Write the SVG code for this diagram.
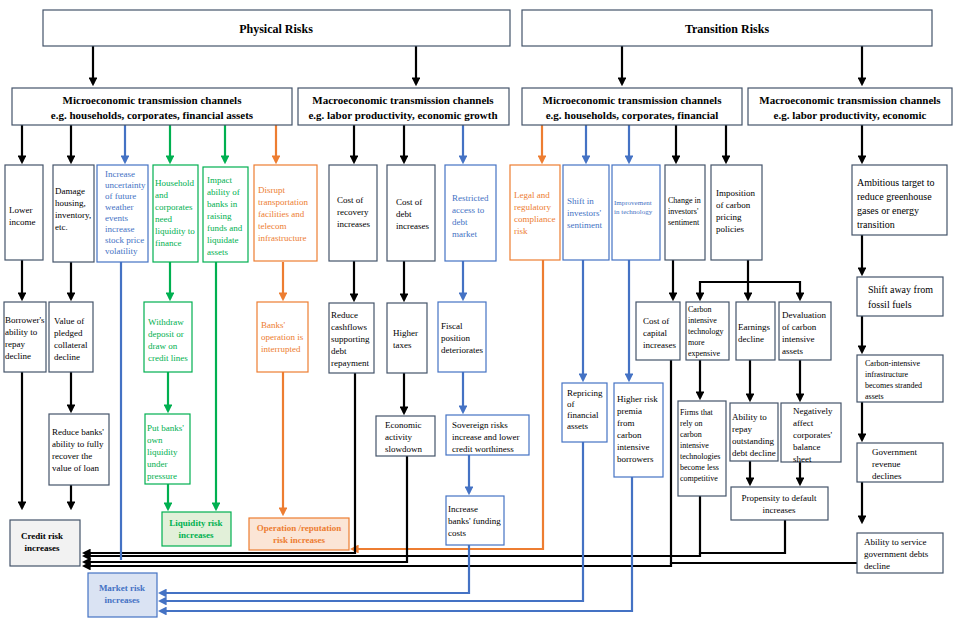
<svg xmlns="http://www.w3.org/2000/svg" width="960" height="621" viewBox="0 0 960 621">
<style>
rect{fill:#fff;stroke-width:1.2}
.k{stroke:#44546a}.u{stroke:#4472c4}.g{stroke:#00b050}.o{stroke:#ed7d31}
text{font-family:"Liberation Serif",serif;font-size:9px;fill:#000}
.tu{fill:#4472c4}.tg{fill:#00b050}.to{fill:#ed7d31}
.h{font-weight:bold;font-size:11px}
.lk{stroke:#000;stroke-width:2.2;fill:none}
.lu{stroke:#4472c4;stroke-width:2.2;fill:none}
.lg{stroke:#00b050;stroke-width:2.2;fill:none}
.lo{stroke:#ed7d31;stroke-width:2.2;fill:none}
.lk.a{marker-end:url(#ak)}.lu.a{marker-end:url(#au)}.lg.a{marker-end:url(#ag)}.lo.a{marker-end:url(#ao)}
</style>
<defs>
<marker id="ak" markerWidth="4" markerHeight="4" refX="3" refY="2" orient="auto" markerUnits="strokeWidth"><path d="M0,0L4,2L0,4z" fill="#000"/></marker>
<marker id="au" markerWidth="4" markerHeight="4" refX="3" refY="2" orient="auto" markerUnits="strokeWidth"><path d="M0,0L4,2L0,4z" fill="#4472c4"/></marker>
<marker id="ag" markerWidth="4" markerHeight="4" refX="3" refY="2" orient="auto" markerUnits="strokeWidth"><path d="M0,0L4,2L0,4z" fill="#00b050"/></marker>
<marker id="ao" markerWidth="4" markerHeight="4" refX="3" refY="2" orient="auto" markerUnits="strokeWidth"><path d="M0,0L4,2L0,4z" fill="#ed7d31"/></marker>
</defs>
<rect width="960" height="621" style="fill:#fff;stroke:none"/>
<g id="connectors">
<path class="lk a" d="M93,46V84"/><path class="lk a" d="M416,46V84"/><path class="lk a" d="M622,46V84"/><path class="lk a" d="M862,46V84"/>
<path class="lk a" d="M22,125V162"/><path class="lk a" d="M71,125V162"/><path class="lk a" d="M354,125V162"/><path class="lk a" d="M404,125V162"/><path class="lk a" d="M676,125V162"/><path class="lk a" d="M726,125V162"/><path class="lk a" d="M862,125V162"/>
<path class="lu a" d="M125,125V162"/><path class="lu a" d="M463,125V162"/><path class="lu a" d="M586,125V162"/><path class="lu a" d="M629,125V162"/>
<path class="lg a" d="M170,125V162"/><path class="lg a" d="M225,125V162"/>
<path class="lo a" d="M276,125V162"/><path class="lo a" d="M542,125V162"/>
<path class="lk a" d="M22,260V299"/><path class="lk a" d="M71,262V299"/><path class="lk a" d="M354,260V300"/><path class="lk a" d="M404,260V300"/>
<path class="lk a" d="M71,372V411"/><path class="lk a" d="M22,372V508"/><path class="lk a" d="M71,485V508"/><path class="lk a" d="M404,373V413"/>
<path class="lk a" d="M673,260V299"/><path class="lk a" d="M748,260V299"/><path class="lk a" d="M748,282H700V299"/><path class="lk a" d="M748,282H800V299"/>
<path class="lk a" d="M700,360V398"/><path class="lk a" d="M750,360V400"/><path class="lk a" d="M800,360V400"/><path class="lk a" d="M750,461V484"/><path class="lk a" d="M800,462V484"/>
<path class="lk a" d="M862,235V274"/><path class="lk a" d="M862,316V352"/><path class="lk a" d="M862,402V440"/><path class="lk a" d="M862,482V522"/>
<path class="lu a" d="M463,260V299"/><path class="lu a" d="M463,372V412"/><path class="lu a" d="M469,455V493"/><path class="lu a" d="M583,260V380"/><path class="lu a" d="M629,260V380"/>
<path class="lg a" d="M170,262V299"/><path class="lg a" d="M168,372V411"/><path class="lg a" d="M168,484V509"/><path class="lg a" d="M216,262V509"/>
<path class="lo a" d="M283,262V299"/><path class="lo a" d="M283,372V514"/><path class="lo a" d="M543,260V549H352"/>
<path class="lk a" d="M355,373V553H84"/><path class="lk" d="M785,520V553H700V496"/><path class="lk a" d="M700,553V556H84"/><path class="lk a" d="M407,456V562H84"/><path class="lk" d="M858,563H671V360"/><path class="lk a" d="M671,563V566H84"/>
<path class="lu" d="M121,262V560"/>
<path class="lu a" d="M469,545V593H160"/><path class="lu a" d="M583,441V601H160"/><path class="lu a" d="M632,477V611H160"/>
</g>
<g id="physical"><rect class="k" x="43" y="10" width="467" height="36"/><text x="276" y="33" text-anchor="middle" class="h" style="font-size:12px">Physical Risks</text></g>
<g id="transition"><rect class="k" x="522" y="10" width="410" height="36"/><text x="727" y="33" text-anchor="middle" class="h" style="font-size:12px">Transition Risks</text></g>
<g id="micro-p"><rect class="k" x="12" y="88" width="280" height="37"/><text text-anchor="middle" class="h"><tspan x="152" y="104">Microeconomic transmission channels</tspan><tspan x="152" y="119">e.g. households, corporates, financial assets</tspan></text></g>
<g id="macro-p"><rect class="k" x="298" y="88" width="211" height="37"/><text text-anchor="middle" class="h"><tspan x="403" y="104">Macroeconomic transmission channels</tspan><tspan x="403" y="119">e.g. labor productivity, economic growth</tspan></text></g>
<g id="micro-t"><rect class="k" x="522" y="88" width="220" height="37"/><text text-anchor="middle" class="h"><tspan x="632" y="104">Microeconomic transmission channels</tspan><tspan x="632" y="119">e.g. households, corporates, financial</tspan></text></g>
<g id="macro-t"><rect class="k" x="748" y="88" width="204" height="37"/><text text-anchor="middle" class="h"><tspan x="850" y="104">Macroeconomic transmission channels</tspan><tspan x="850" y="119">e.g. labor productivity, economic</tspan></text></g>

<g id="lower-income"><rect class="k" x="5" y="165" width="38" height="95"/><text><tspan x="9" y="213">Lower</tspan><tspan x="9" y="225">income</tspan></text></g>
<g id="damage"><rect class="k" x="53" y="165" width="41" height="97"/><text><tspan x="55" y="194">Damage</tspan><tspan x="55" y="206">housing,</tspan><tspan x="55" y="218">inventory,</tspan><tspan x="55" y="230">etc.</tspan></text></g>
<g id="uncertainty"><rect class="u" x="97" y="165" width="51" height="97"/><text class="tu"><tspan x="105" y="177">Increase</tspan><tspan x="105" y="188">uncertainty</tspan><tspan x="105" y="199">of future</tspan><tspan x="105" y="210">weather</tspan><tspan x="105" y="221">events</tspan><tspan x="105" y="232">increase</tspan><tspan x="105" y="243">stock price</tspan><tspan x="105" y="254">volatility</tspan></text></g>
<g id="household"><rect class="g" x="153" y="165" width="45" height="97"/><text class="tg"><tspan x="155" y="186">Household</tspan><tspan x="155" y="198">and</tspan><tspan x="155" y="210">corporates</tspan><tspan x="155" y="222">need</tspan><tspan x="155" y="234">liquidity to</tspan><tspan x="155" y="246">finance</tspan></text></g>
<g id="impact"><rect class="g" x="203" y="167" width="45" height="95"/><text class="tg"><tspan x="207" y="183">Impact</tspan><tspan x="207" y="195">ability of</tspan><tspan x="207" y="207">banks in</tspan><tspan x="207" y="219">raising</tspan><tspan x="207" y="231">funds and</tspan><tspan x="207" y="243">liquidate</tspan><tspan x="207" y="255">assets</tspan></text></g>
<g id="disrupt"><rect class="o" x="254" y="165" width="63" height="96"/><text class="to"><tspan x="258" y="193">Disrupt</tspan><tspan x="258" y="205">transportation</tspan><tspan x="258" y="217">facilities and</tspan><tspan x="258" y="229">telecom</tspan><tspan x="258" y="241">infrastructure</tspan></text></g>
<g id="recovery"><rect class="k" x="329" y="165" width="48" height="96"/><text><tspan x="337" y="203">Cost of</tspan><tspan x="337" y="215">recovery</tspan><tspan x="337" y="227">increases</tspan></text></g>
<g id="cost-debt"><rect class="k" x="387" y="165" width="48" height="96"/><text><tspan x="396" y="205">Cost of</tspan><tspan x="396" y="217">debt</tspan><tspan x="396" y="229">increases</tspan></text></g>
<g id="restricted"><rect class="u" x="445" y="165" width="51" height="96"/><text class="tu"><tspan x="452" y="201">Restricted</tspan><tspan x="452" y="213">access to</tspan><tspan x="452" y="225">debt</tspan><tspan x="452" y="237">market</tspan></text></g>
<g id="legal"><rect class="o" x="510" y="165" width="50" height="95"/><text class="to"><tspan x="514" y="198">Legal and</tspan><tspan x="514" y="210">regulatory</tspan><tspan x="514" y="222">compliance</tspan><tspan x="514" y="234">risk</tspan></text></g>
<g id="shift-sent"><rect class="u" x="563" y="165" width="46" height="95"/><text class="tu"><tspan x="567" y="204">Shift in</tspan><tspan x="567" y="216">investors'</tspan><tspan x="567" y="228">sentiment</tspan></text></g>
<g id="improve"><rect class="u" x="612" y="165" width="48" height="95"/><text class="tu" style="font-size:7px"><tspan x="614" y="205">Improvement</tspan><tspan x="614" y="214">in technology</tspan></text></g>
<g id="change-sent"><rect class="k" x="665" y="165" width="40" height="95"/><text style="font-size:8px"><tspan x="668" y="203">Change in</tspan><tspan x="668" y="214">investors'</tspan><tspan x="668" y="225">sentiment</tspan></text></g>
<g id="imposition"><rect class="k" x="711" y="165" width="51" height="95"/><text><tspan x="716" y="196">Imposition</tspan><tspan x="716" y="208">of carbon</tspan><tspan x="716" y="220">pricing</tspan><tspan x="716" y="232">policies</tspan></text></g>
<g id="ambitious"><rect class="k" x="852" y="165" width="95" height="70"/><text style="font-size:10px"><tspan x="857" y="186">Ambitious target to</tspan><tspan x="857" y="200">reduce greenhouse</tspan><tspan x="857" y="214">gases or energy</tspan><tspan x="857" y="228">transition</tspan></text></g>

<g id="borrower"><rect class="k" x="4" y="302" width="42" height="70"/><text><tspan x="5" y="323">Borrower's</tspan><tspan x="5" y="335">ability to</tspan><tspan x="5" y="347">repay</tspan><tspan x="5" y="359">decline</tspan></text></g>
<g id="pledged"><rect class="k" x="49" y="302" width="44" height="70"/><text><tspan x="54" y="324">Value of</tspan><tspan x="54" y="336">pledged</tspan><tspan x="54" y="348">collateral</tspan><tspan x="54" y="360">decline</tspan></text></g>
<g id="withdraw"><rect class="g" x="144" y="302" width="48" height="70"/><text class="tg"><tspan x="148" y="325">Withdraw</tspan><tspan x="148" y="337">deposit or</tspan><tspan x="148" y="349">draw on</tspan><tspan x="148" y="361">credit lines</tspan></text></g>
<g id="ops-interrupted"><rect class="o" x="257" y="302" width="51" height="70"/><text class="to"><tspan x="261" y="328">Banks'</tspan><tspan x="261" y="340">operation is</tspan><tspan x="261" y="352">interrupted</tspan></text></g>
<g id="cashflows"><rect class="k" x="329" y="303" width="45" height="70"/><text><tspan x="331" y="318">Reduce</tspan><tspan x="331" y="330">cashflows</tspan><tspan x="331" y="342">supporting</tspan><tspan x="331" y="354">debt</tspan><tspan x="331" y="366">repayment</tspan></text></g>
<g id="taxes"><rect class="k" x="387" y="303" width="40" height="70"/><text><tspan x="393" y="336">Higher</tspan><tspan x="393" y="348">taxes</tspan></text></g>
<g id="fiscal"><rect class="u" x="438" y="302" width="48" height="70"/><text><tspan x="441" y="329">Fiscal</tspan><tspan x="441" y="341">position</tspan><tspan x="441" y="353">deteriorates</tspan></text></g>
<g id="cost-capital"><rect class="k" x="636" y="302" width="44" height="58"/><text><tspan x="643" y="324">Cost of</tspan><tspan x="643" y="336">capital</tspan><tspan x="643" y="348">increases</tspan></text></g>
<g id="carbon-tech"><rect class="k" x="686" y="302" width="43" height="58"/><text style="font-size:8px"><tspan x="688" y="312">Carbon</tspan><tspan x="688" y="323">intensive</tspan><tspan x="688" y="334">technology</tspan><tspan x="688" y="345">more</tspan><tspan x="688" y="356">expensive</tspan></text></g>
<g id="earnings"><rect class="k" x="736" y="302" width="39" height="58"/><text><tspan x="738" y="330">Earnings</tspan><tspan x="738" y="342">decline</tspan></text></g>
<g id="devaluation"><rect class="k" x="779" y="302" width="52" height="58"/><text><tspan x="782" y="318">Devaluation</tspan><tspan x="782" y="330">of carbon</tspan><tspan x="782" y="342">intensive</tspan><tspan x="782" y="354">assets</tspan></text></g>
<g id="shift-fossil"><rect class="k" x="857" y="277" width="86" height="39"/><text style="font-size:10px"><tspan x="868" y="293">Shift away from</tspan><tspan x="868" y="308">fossil fuels</tspan></text></g>
<g id="stranded"><rect class="k" x="857" y="355" width="86" height="47"/><text style="font-size:8px"><tspan x="865" y="366">Carbon-intensive</tspan><tspan x="865" y="377">infrastructure</tspan><tspan x="865" y="388">becomes stranded</tspan><tspan x="865" y="399">assets</tspan></text></g>

<g id="reduce-recover"><rect class="k" x="49" y="414" width="60" height="71"/><text><tspan x="52" y="435">Reduce banks'</tspan><tspan x="52" y="447">ability to fully</tspan><tspan x="52" y="459">recover the</tspan><tspan x="52" y="471">value of loan</tspan></text></g>
<g id="put-banks"><rect class="g" x="145" y="414" width="45" height="70"/><text class="tg"><tspan x="147" y="431">Put banks'</tspan><tspan x="147" y="443">own</tspan><tspan x="147" y="455">liquidity</tspan><tspan x="147" y="467">under</tspan><tspan x="147" y="479">pressure</tspan></text></g>
<g id="econ-slow"><rect class="k" x="376" y="416" width="59" height="40"/><text><tspan x="385" y="428">Economic</tspan><tspan x="385" y="440">activity</tspan><tspan x="385" y="452">slowdown</tspan></text></g>
<g id="sovereign"><rect class="u" x="446" y="415" width="83" height="40"/><text><tspan x="452" y="428">Sovereign risks</tspan><tspan x="452" y="440">increase and lower</tspan><tspan x="452" y="452">credit worthiness</tspan></text></g>
<g id="repricing"><rect class="u" x="562" y="383" width="45" height="59"/><text><tspan x="567" y="396">Repricing</tspan><tspan x="567" y="407">of</tspan><tspan x="567" y="418">financial</tspan><tspan x="567" y="429">assets</tspan></text></g>
<g id="premia"><rect class="u" x="614" y="383" width="49" height="94"/><text><tspan x="617" y="402">Higher risk</tspan><tspan x="617" y="414">premia</tspan><tspan x="617" y="426">from</tspan><tspan x="617" y="438">carbon</tspan><tspan x="617" y="450">intensive</tspan><tspan x="617" y="462">borrowers</tspan></text></g>
<g id="firms"><rect class="k" x="678" y="401" width="48" height="95"/><text style="font-size:8px"><tspan x="680" y="415">Firms that</tspan><tspan x="680" y="426">rely on</tspan><tspan x="680" y="437">carbon</tspan><tspan x="680" y="448">intensive</tspan><tspan x="680" y="459">technologies</tspan><tspan x="680" y="470">become less</tspan><tspan x="680" y="481">competitive</tspan></text></g>
<g id="repay"><rect class="k" x="730" y="403" width="48" height="58"/><text><tspan x="732" y="420">Ability to</tspan><tspan x="732" y="432">repay</tspan><tspan x="732" y="444">outstanding</tspan><tspan x="732" y="456">debt decline</tspan></text></g>
<g id="negatively"><rect class="k" x="781" y="403" width="60" height="59"/><text><tspan x="793" y="414">Negatively</tspan><tspan x="793" y="426">affect</tspan><tspan x="793" y="438">corporates'</tspan><tspan x="793" y="450">balance</tspan><tspan x="793" y="462">sheet</tspan></text></g>
<g id="gov-revenue"><rect class="k" x="857" y="443" width="86" height="39"/><text><tspan x="872" y="455">Government</tspan><tspan x="872" y="467">revenue</tspan><tspan x="872" y="479">declines</tspan></text></g>
<g id="funding"><rect class="u" x="446" y="496" width="58" height="49"/><text><tspan x="448" y="512">Increase</tspan><tspan x="448" y="524">banks' funding</tspan><tspan x="448" y="536">costs</tspan></text></g>
<g id="propensity"><rect class="k" x="731" y="487" width="97" height="33"/><text text-anchor="middle"><tspan x="779" y="501">Propensity to default</tspan><tspan x="779" y="513">increases</tspan></text></g>
<g id="service-debt"><rect class="k" x="857" y="533" width="86" height="40"/><text><tspan x="864" y="545">Ability to service</tspan><tspan x="864" y="557">government debts</tspan><tspan x="864" y="569">decline</tspan></text></g>

<g id="credit-risk"><rect class="k" x="10" y="520" width="70" height="46" style="fill:#f2f2f2"/><text text-anchor="middle" style="font-weight:bold"><tspan x="42" y="539">Credit risk</tspan><tspan x="42" y="551">increases</tspan></text></g>
<g id="liquidity-risk"><rect class="g" x="162" y="512" width="69" height="34" style="fill:#e2f0d9"/><text text-anchor="middle" class="tg" style="font-weight:bold"><tspan x="196" y="526">Liquidity risk</tspan><tspan x="196" y="538">increases</tspan></text></g>
<g id="operation-risk"><rect class="o" x="249" y="518" width="100" height="32" style="fill:#fbe5d6"/><text text-anchor="middle" class="to" style="font-weight:bold"><tspan x="299" y="531">Operation /reputation</tspan><tspan x="299" y="543">risk increases</tspan></text></g>
<g id="market-risk"><rect class="u" x="88" y="573" width="69" height="44" style="fill:#dae3f3"/><text text-anchor="middle" class="tu" style="font-weight:bold"><tspan x="122" y="591">Market risk</tspan><tspan x="122" y="603">increases</tspan></text></g>
</svg>
